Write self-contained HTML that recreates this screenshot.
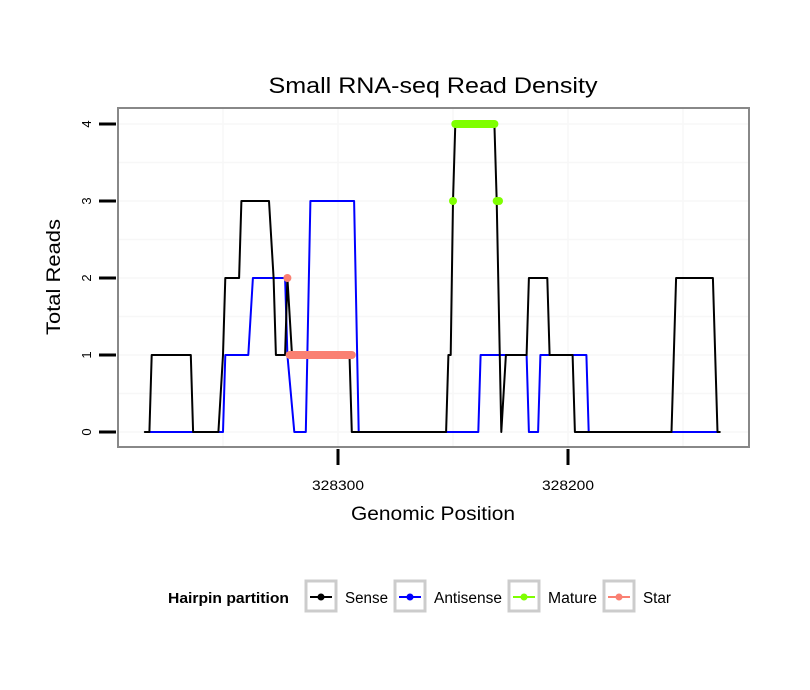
<!DOCTYPE html>
<html><head><meta charset="utf-8"><style>
body{margin:0;background:#fff;}
svg{display:block;font-family:"Liberation Sans",Arial,sans-serif;}
</style></head><body>
<svg id="chart" width="810" height="690">
<rect x="0" y="0" width="810" height="690" fill="#fff"/>
<text x="433" y="93" font-size="22" text-anchor="middle" textLength="329" lengthAdjust="spacingAndGlyphs">Small RNA-seq Read Density</text>
<g id="grid"></g>
<g id="series"></g>
<rect x="118" y="108" width="631" height="339" fill="none" stroke="#888" stroke-width="2"/>
<g id="axes"></g>
<text x="433" y="520" font-size="19" text-anchor="middle" textLength="164" lengthAdjust="spacingAndGlyphs">Genomic Position</text>
<text transform="translate(60,277) rotate(-90)" font-size="19" text-anchor="middle" textLength="116" lengthAdjust="spacingAndGlyphs">Total Reads</text>
<g>
<text x="168" y="603" font-size="15" font-weight="bold" textLength="121" lengthAdjust="spacingAndGlyphs">Hairpin partition</text>
<g><rect x="306" y="581" width="30" height="30" fill="#fff" stroke="#ccc" stroke-width="3"/><line x1="310" y1="597" x2="332" y2="597" stroke="#000" stroke-width="2"/><circle cx="321" cy="597" r="3.5" fill="#000"/><text x="345" y="603" font-size="15.5" textLength="43" lengthAdjust="spacingAndGlyphs">Sense</text></g>
<g><rect x="395" y="581" width="30" height="30" fill="#fff" stroke="#ccc" stroke-width="3"/><line x1="399" y1="597" x2="421" y2="597" stroke="#00f" stroke-width="2"/><circle cx="410" cy="597" r="3.5" fill="#00f"/><text x="434" y="603" font-size="15.5" textLength="68" lengthAdjust="spacingAndGlyphs">Antisense</text></g>
<g><rect x="509" y="581" width="30" height="30" fill="#fff" stroke="#ccc" stroke-width="3"/><line x1="513" y1="597" x2="535" y2="597" stroke="#7fff00" stroke-width="2"/><circle cx="524" cy="597" r="3.5" fill="#7fff00"/><text x="548" y="603" font-size="15.5" textLength="49" lengthAdjust="spacingAndGlyphs">Mature</text></g>
<g><rect x="604" y="581" width="30" height="30" fill="#fff" stroke="#ccc" stroke-width="3"/><line x1="608" y1="597" x2="630" y2="597" stroke="#fa8072" stroke-width="2"/><circle cx="619" cy="597" r="3.5" fill="#fa8072"/><text x="643" y="603" font-size="15.5" textLength="28" lengthAdjust="spacingAndGlyphs">Star</text></g>
</g>
</svg>
<script>
const sensePos=[328384,328382,328381,328364,328363,328352,328350,328349,328343,328342,328330,328328,328327,328323,328322,328320,328295,328294,328253,328252,328251,328250,328249,328232,328231,328229,328227,328218,328217,328209,328208,328198,328197,328155,328153,328137,328135,328134];
const senseVal=[0,0,1,1,0,0,1,2,2,3,3,2,1,1,2,1,1,0,0,1,1,3,4,4,3,0,1,1,2,2,1,1,0,0,2,2,0,0];
const antiPos=[328382,328350,328349,328339,328337,328323,328322,328319,328314,328312,328293,328291,328239,328238,328218,328217,328213,328212,328192,328191,328135];
const antiVal=[0,0,1,1,2,2,1,0,0,3,3,0,0,1,1,0,0,1,1,0,0];
const maturePos=[328250,328249,328232,328231,328230];
const matureVal=[3,4,4,3,3];
const starPos=[328322,328321,328294];
const starVal=[2,1,1];
const yTicks=[0,1,2,3,4];
const xTicks=[328300,328200];
const xGrid=[328350,328250,328150];

const X=p=>338+(328300-p)*2.3;
const Y=v=>432-v*77;
const NS='http://www.w3.org/2000/svg';
function mk(tag,parent,attrs){const e=document.createElementNS(NS,tag);for(const k in attrs)e.setAttribute(k,attrs[k]);parent.appendChild(e);return e;}
const grid=document.getElementById('grid'),ser=document.getElementById('series'),axes=document.getElementById('axes');
for(let v=0;v<=4;v+=0.5){
  const l=mk('line',grid,{x1:119,x2:748,y1:Y(v),y2:Y(v),stroke:'#f7f7f7','stroke-width':1.5});
  
  
}
xGrid.concat(xTicks).forEach(p=>{
  const l=mk('line',grid,{x1:X(p),x2:X(p),y1:109,y2:446,stroke:'#f7f7f7','stroke-width':1.5});
  
  
});
function path(pos,val,color,w,name){
  const d=pos.map((p,i)=>(i?'L':'M')+X(p).toFixed(1)+','+Y(val[i]).toFixed(1)).join('');
  const e=mk('path',ser,{d:d,fill:'none',stroke:color,'stroke-width':w,'stroke-linejoin':'round','stroke-linecap':'round'});
  
  
}
path(antiPos,antiVal,'#00f',2,'antisense-line');
path(sensePos,senseVal,'#000',2,'sense-line');
const mTop=maturePos.filter((p,i)=>matureVal[i]===4), mTopV=mTop.map(()=>4);
path(mTop,mTopV,'#7fff00',8,'mature-segment');
maturePos.forEach((p,i)=>{ if(matureVal[i]!==4){
  const c=mk('circle',ser,{cx:X(p),cy:Y(matureVal[i]),r:4,fill:'#7fff00'});
  
  
}});
const sSeg=starPos.filter((p,i)=>starVal[i]===1);
path(sSeg,sSeg.map(()=>1),'#fa8072',8,'star-segment');
starPos.forEach((p,i)=>{ if(starVal[i]!==1){
  const c=mk('circle',ser,{cx:X(p),cy:Y(starVal[i]),r:4,fill:'#fa8072'});
  
  
}});
yTicks.forEach(v=>{
  const t=mk('line',axes,{x1:99,x2:116,y1:Y(v),y2:Y(v),stroke:'#000','stroke-width':3});
  
  
  const tx=mk('text',axes,{transform:`translate(91,${Y(v)}) rotate(-90)`,'font-size':13,'text-anchor':'middle'});
  tx.textContent=v;
  
  
});
xTicks.forEach(p=>{
  const t=mk('line',axes,{x1:X(p),x2:X(p),y1:449,y2:465,stroke:'#000','stroke-width':3});
  
  
  const tx=mk('text',axes,{x:X(p),y:490,'font-size':14,'text-anchor':'middle',textLength:52,lengthAdjust:'spacingAndGlyphs'});
  tx.textContent=p;
  
  
});
</script>
</body></html>
